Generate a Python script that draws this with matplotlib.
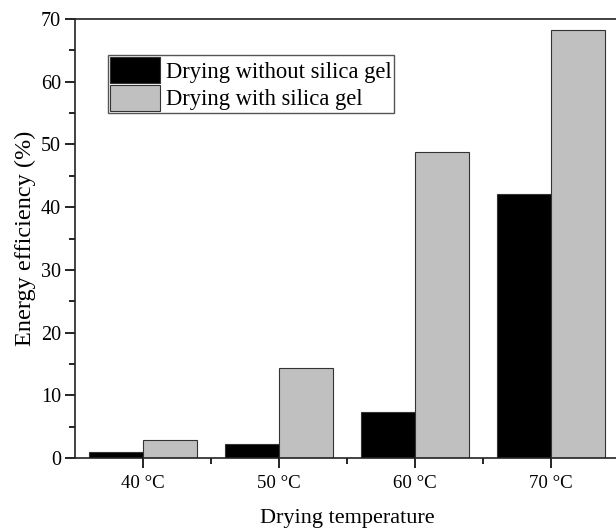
import matplotlib
matplotlib.use('Agg')
import matplotlib.pyplot as plt
from matplotlib.ticker import MultipleLocator
import numpy as np

# Daten
temperaturen = ['40 °C', '50 °C', '60 °C', '70 °C']
ohne_silica = [1.0, 2.2, 7.3, 42.1]
mit_silica = [2.9, 14.4, 48.8, 68.2]

plt.rcParams['font.family'] = ['Liberation Serif', 'DejaVu Serif']

fig = plt.figure(figsize=(6.16, 5.29), dpi=100)
ax = fig.add_axes([0.1218, 0.134, 0.883, 0.830])

x = np.arange(len(temperaturen))
breite = 0.4
ax.bar(x - breite / 2, ohne_silica, breite, color='black', edgecolor='#333333',
       linewidth=0.8, label='Drying without silica gel')
ax.bar(x + breite / 2, mit_silica, breite, color='#c0c0c0', edgecolor='#333333',
       linewidth=0.8, label='Drying with silica gel')

ax.set_xlim(-0.5, len(temperaturen) - 0.5)
ax.set_ylim(0, 70)
ax.set_xticks(x)
ax.set_xticklabels(temperaturen)
ax.set_xticks(x[:-1] + 0.5, minor=True)
ax.yaxis.set_major_locator(MultipleLocator(10))
ax.yaxis.set_minor_locator(MultipleLocator(5))
ax.tick_params(axis='both', which='major', direction='out', length=7, width=1.2)
ax.tick_params(axis='both', which='minor', direction='out', length=4, width=1.2)
ax.tick_params(axis='x', labelsize=13.6, pad=5)
ax.tick_params(axis='y', labelsize=14.5, pad=3)

for s in ax.spines.values():
    s.set_linewidth(1.2)
    s.set_color('#222222')

ax.set_xlabel('Drying temperature', fontsize=16)
ax.set_ylabel('Energy efficiency (%)', fontsize=17.5)
ax.xaxis.set_label_coords(0.5, -0.116)
ax.yaxis.set_label_coords(-0.072, 0.5)

ax.legend(loc='upper left', bbox_to_anchor=(0.0607, 0.918), fontsize=16.3,
          frameon=True, fancybox=False, edgecolor='#555555', framealpha=1,
          handlelength=2.2, handleheight=1.37, handletextpad=0.27,
          borderpad=0.1, labelspacing=0.08, borderaxespad=0)

fig.savefig('out.png', dpi=100)
plt.close(fig)
